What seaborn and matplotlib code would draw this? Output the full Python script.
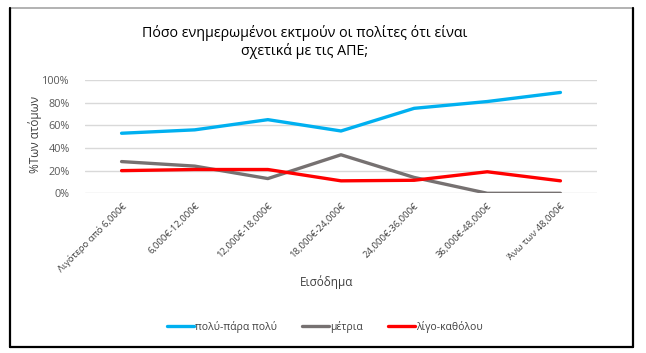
import matplotlib
matplotlib.use("Agg")
import matplotlib.pyplot as plt
import seaborn as sns
import pandas as pd
from matplotlib.patches import Rectangle
from matplotlib.lines import Line2D
from matplotlib.ticker import PercentFormatter

categories = ["Λιγότερο από 6,000€", "6,000€-12,000€", "12,000€-18,000€",
              "18,000€-24,000€", "24,000€-36,000€", "36,000€-48,000€",
              "Άνω των 48,000€"]
series_names = ["πολύ-πάρα πολύ", "μέτρια", "λίγο-καθόλου"]
very_much = [0.53, 0.56, 0.65, 0.55, 0.75, 0.81, 0.89]
moderate = [0.28, 0.24, 0.13, 0.34, 0.14, 0.00, 0.00]
little = [0.20, 0.21, 0.21, 0.11, 0.115, 0.19, 0.11]
colors = ["#00B0F0", "#767171", "#FF0000"]

rows = []
for name, vals in zip(series_names, [very_much, moderate, little]):
    for i, (c, v) in enumerate(zip(categories, vals)):
        rows.append({"pos": i, "cat": c, "series": name, "value": v})
df = pd.DataFrame(rows)

sns.set_theme(style="white")
plt.rcParams['font.family'] = ['Open Sans', 'DejaVu Sans']

W, H = 646, 353
fig = plt.figure(figsize=(W / 100, H / 100), dpi=100)
fig.patch.set_facecolor("white")

# chart frame
fig.add_artist(Rectangle((10 / W, 1 - 347 / H), (633 - 10) / W, (347 - 8) / H,
                         transform=fig.transFigure, fill=False,
                         edgecolor="#A6A6A6", linewidth=1.2))
fig.add_artist(Line2D([10 / W, 10 / W], [1 - 347 / H, 1 - 8 / H], transform=fig.transFigure,
                      color="black", linewidth=1.6))
fig.add_artist(Line2D([633 / W, 633 / W], [1 - 347 / H, 1 - 8 / H], transform=fig.transFigure,
                      color="black", linewidth=1.6))
fig.add_artist(Line2D([10 / W, 633 / W], [1 - 347 / H, 1 - 347 / H], transform=fig.transFigure,
                      color="black", linewidth=1.6))

left, right, top, bottom = 85, 597, 80, 193.3
ax = fig.add_axes([left / W, 1 - bottom / H, (right - left) / W, (bottom - top) / H])

sns.lineplot(data=df, x="pos", y="value", hue="series", hue_order=series_names,
             palette=colors, linewidth=2.4, ax=ax, legend=False, sort=False)

ax.set_xlim(-0.5, 6.5)
ax.set_ylim(0, 1.0)
ax.set_yticks([0, 0.2, 0.4, 0.6, 0.8, 1.0])
ax.yaxis.set_major_formatter(PercentFormatter(1.0, decimals=0))
ax.set_xticks(range(len(categories)))
ax.set_xticklabels(categories, rotation=45, ha="right", rotation_mode="anchor",
                   fontsize=6.8, color="#404040")
ax.tick_params(axis="y", labelsize=7.8, labelcolor="#595959", length=0, pad=11)
ax.tick_params(axis="x", length=0, pad=6)
ax.grid(axis="y", color="#D9D9D9", linewidth=1.0)
ax.set_axisbelow(True)
for s in ax.spines.values():
    s.set_visible(False)
ax.set_xlabel("")
ax.set_ylabel("")

fig.text(305 / W, 1 - 33 / H, "Πόσο ενημερωμένοι εκτμούν οι πολίτες ότι είναι",
         ha="center", va="center", fontsize=10.3, color="black")
fig.text(305 / W, 1 - 51 / H, "σχετικά με τις ΑΠΕ;",
         ha="center", va="center", fontsize=10.3, color="black")
fig.text(35 / W, 1 - 134 / H, "%Των ατόμων", rotation=90, ha="center", va="center",
         fontsize=8.5, color="#404040")
fig.text(327 / W, 1 - 282 / H, "Εισόδημα", ha="center", va="center",
         fontsize=8.5, color="#404040")

handles = [Line2D([0], [0], color=c, linewidth=2.4) for c in colors]
fig.legend(handles, series_names, loc="center", bbox_to_anchor=(325 / W, 1 - 327 / H),
           ncol=3, frameon=False, fontsize=7.5, handlelength=2.6, handletextpad=0.1,
           columnspacing=2.4, labelcolor="#404040")

fig.savefig("out.png", dpi=100, facecolor="white")
